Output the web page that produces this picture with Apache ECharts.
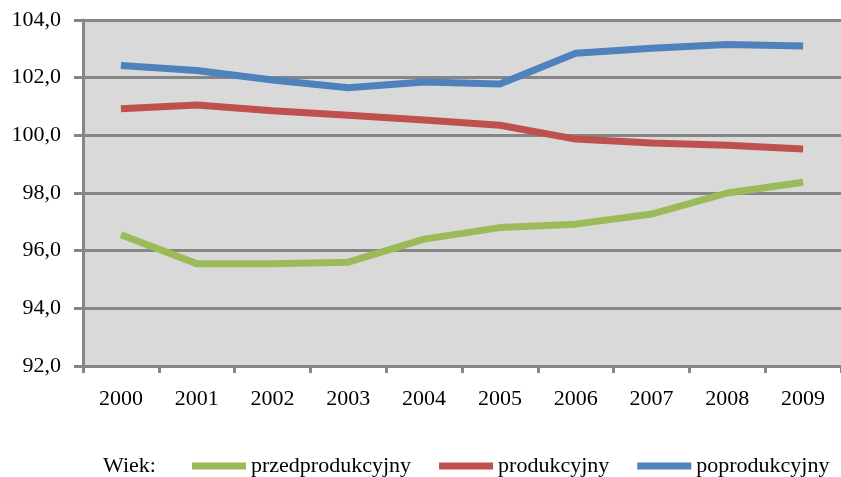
<!DOCTYPE html>
<html>
<head>
<meta charset="utf-8">
<script src="https://cdn.jsdelivr.net/npm/echarts@6/dist/echarts.min.js"></script>
<style>
  html, body { margin: 0; padding: 0; background: #fff; }
  #chart { width: 841px; height: 477px; }
</style>
</head>
<body>
<div id="chart"></div>
<script>
// lata
var years = ['2000', '2001', '2002', '2003', '2004', '2005', '2006', '2007', '2008', '2009'];
// wartości dla grup wieku
var przedprodukcyjny = [96.55, 95.55, 95.55, 95.6, 96.4, 96.8, 96.92, 97.27, 98.0, 98.37];
var produkcyjny = [100.92, 101.05, 100.85, 100.7, 100.53, 100.35, 99.87, 99.73, 99.66, 99.53];
var poprodukcyjny = [102.42, 102.25, 101.92, 101.65, 101.85, 101.78, 102.85, 103.02, 103.15, 103.1];
var yMin = 92, yMax = 104, yStep = 2;

var font = '"Liberation Serif", "Times New Roman", serif';
var gridGray = '#868686';

var chart = echarts.init(document.getElementById('chart'));

function lineSeries(name, data, color) {
    return {
        name: name,
        type: 'line',
        data: data,
        showSymbol: false,
        symbol: 'none',
        lineStyle: { color: color, width: 7 },
        itemStyle: { color: color },
        animation: false
    };
}

var option = {
    backgroundColor: '#fff',
    textStyle: { fontFamily: font },
    title: {
        text: 'Wiek:',
        left: 98,
        top: 450,
        textStyle: { fontFamily: font, fontSize: 22, fontWeight: 'normal', color: '#000' }
    },
    legend: {
        left: 187,
        top: 450,
        icon: 'rect',
        itemWidth: 54,
        itemHeight: 7,
        itemGap: 28,
        textStyle: { fontFamily: font, fontSize: 22, color: '#000' },
        data: ['przedprodukcyjny', 'produkcyjny', 'poprodukcyjny']
    },
    grid: {
        left: 83,
        top: 20,
        right: -5,
        bottom: 111,
        show: true,
        backgroundColor: '#D9D9D9',
        borderWidth: 0
    },
    xAxis: {
        type: 'category',
        data: years,
        boundaryGap: true,
        axisLine: { lineStyle: { color: gridGray, width: 3 } },
        axisTick: { show: true, length: 7, lineStyle: { color: gridGray, width: 3 } },
        axisLabel: { margin: 22, fontFamily: font, fontSize: 22, color: '#000' },
        splitLine: { show: false }
    },
    yAxis: {
        type: 'value',
        min: yMin,
        max: yMax,
        interval: yStep,
        axisLine: { show: true, lineStyle: { color: gridGray, width: 3 } },
        axisTick: { show: true, length: 9, lineStyle: { color: gridGray, width: 3 } },
        axisLabel: {
            margin: 22,
            fontFamily: font,
            fontSize: 22,
            color: '#000',
            formatter: function (v) { return v.toFixed(1).replace('.', ','); }
        },
        splitLine: { show: true, lineStyle: { color: gridGray, width: 3 } }
    },
    series: [
        lineSeries('przedprodukcyjny', przedprodukcyjny, '#9BBB59'),
        lineSeries('produkcyjny', produkcyjny, '#C0504D'),
        lineSeries('poprodukcyjny', poprodukcyjny, '#4F81BD')
    ]
};

chart.setOption(option);
</script>
</body>
</html>
